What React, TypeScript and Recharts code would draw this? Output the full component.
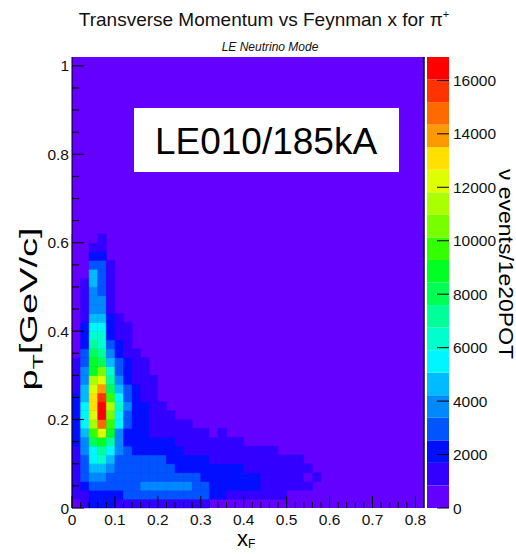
import { ScatterChart, Scatter, XAxis, YAxis, ReferenceArea, BarChart, Bar } from 'recharts'

const font = '"Liberation Sans", Arial, sans-serif'

// histogram binning (ROOT TH2: 0.02 wide bins in both x_F and p_T)
const xFBinWidth = 0.02
const pTBinWidth = 0.02
const xFRange = [0, 0.82]
const pTRange = [0, 1.02]

// colour scale: 20 contours from 0 to zMax
const zMax = 16875
const palette = [
  '#6300ff', '#3300ff', '#0010ff', '#0055ff', '#0088ff',
  '#00bbff', '#00f6ff', '#00ffcc', '#00ff99', '#00ff55',
  '#00ff22', '#33ff00', '#77ff00', '#aaff00', '#ddff00',
  '#ffe000', '#ff9900', '#ff6a00', '#ff3300', '#ff0000',
]

const xTickLabels = ['0', '0.1', '0.2', '0.3', '0.4', '0.5', '0.6', '0.7', '0.8']
const yTickLabels = ['0', '0.2', '0.4', '0.6', '0.8', '1']
const zTickLabels = [0, 2000, 4000, 6000, 8000, 10000, 12000, 14000, 16000]

// nu events / 1e20 POT per bin; one list per pT row (row 0 = 0-0.02 GeV/c), columns start at xF = 0
const eventsByRow: number[][] = [
  [300, 1400, 2200, 2300, 2000, 1600, 1500, 1400, 1400, 1300, 1300, 1200, 1100, 1000, 950, 900],
  [1100, 1600, 2300, 2500, 2400, 2500, 2700, 2800, 2900, 3000, 3100, 3000, 2900, 2800, 2700, 2600, 2300, 2000, 1500, 1400, 1300, 1200, 1100, 1000, 900],
  [1300, 2200, 2800, 3000, 3100, 3100, 3200, 3300, 3500, 3700, 3800, 3700, 3600, 3400, 3200, 2900, 2400, 2300, 2200, 2100, 1950, 1800, 1600, 1500, 1400, 1300, 1100, 950],
  [1400, 2900, 3700, 3600, 3300, 3100, 3000, 3000, 2950, 2900, 2900, 2850, 2800, 2700, 2600, 2450, 2300, 2200, 2100, 2000, 1900, 1750, 1600, 1450, 1300, 1150, 950, 700, 900],
  [1500, 3000, 4500, 4700, 3900, 3200, 3150, 3100, 3050, 3000, 2900, 2750, 2500, 2400, 2300, 2200, 2100, 2000, 1900, 1750, 1600, 1500, 1400, 1300, 1200, 1100, 1000, 900],
  [1500, 3100, 5600, 6200, 4600, 3300, 3200, 3100, 3000, 2900, 2700, 2500, 2400, 2200, 2000, 1800, 1650, 1550, 1450, 1400, 1350, 1300, 1200, 1100, 1000, 950, 900],
  [1300, 3500, 5300, 7000, 5200, 3600, 2800, 2400, 2300, 2200, 2100, 2000, 1750, 1600, 1500, 1450, 1400, 1350, 1300, 1200, 1100, 1000, 950, 900],
  [1800, 3600, 8100, 8700, 7000, 3700, 2400, 2300, 2200, 2100, 1900, 1750, 1600, 1500, 1400, 1300, 1200, 1100, 1000, 900],
  [1900, 4400, 9600, 12100, 8800, 3600, 2400, 2200, 1800, 1600, 1500, 1400, 1300, 1200, 1100, 1000, 700, 900],
  [2000, 5400, 11200, 14700, 9500, 5200, 2800, 2100, 1800, 1500, 1400, 1300, 1100, 950],
  [2000, 5600, 12400, 16600, 10400, 5500, 2900, 2200, 1900, 1500, 1300, 1000],
  [1900, 5500, 13000, 16200, 11300, 6100, 3500, 2300, 1900, 1400, 1000],
  [1800, 4900, 13300, 15700, 9800, 5300, 2800, 2100, 1500, 1100],
  [1600, 4500, 12300, 13800, 8200, 4500, 2700, 1900, 1400, 1000],
  [1500, 3700, 11200, 12100, 7100, 3600, 2100, 1500, 1200, 900],
  [1400, 3500, 8800, 10500, 6200, 3000, 2000, 1400, 1100],
  [1200, 3100, 8600, 8000, 4600, 2900, 1900, 1300, 1000],
  [700, 2800, 7800, 7000, 3700, 2100, 1300, 1000],
  [600, 2300, 7000, 6200, 3000, 2000, 1200],
  [600, 2200, 6300, 6000, 2300, 1500, 1000],
  [500, 1900, 5400, 5300, 2100, 1400, 900],
  [500, 1500, 4600, 4500, 1900, 1200],
  [400, 1400, 3900, 3700, 1300],
  [400, 1300, 3800, 3500, 1200],
  [400, 1200, 3700, 3000, 1100],
  [300, 1000, 4400, 2900, 1000],
  [300, 600, 4300, 3000, 950],
  [200, 500, 3100, 3000, 900],
  [200, 400, 2000, 2200],
  [100, 300, 1500, 1500],
  [100, 200, 600, 1200],
]

const levelStep = zMax / palette.length
const colourFor = (v: number) => palette[Math.min(palette.length - 1, Math.floor(v / levelStep))]

const cells = eventsByRow.flatMap((row, r) =>
  row.map((v, c) => ({
    x1: c * xFBinWidth,
    x2: (c + 1) * xFBinWidth,
    y1: r * pTBinWidth,
    y2: (r + 1) * pTBinWidth,
    x: (c + 0.5) * xFBinWidth,
    y: (r + 0.5) * pTBinWidth,
    v,
  }))
)

const xTicks = Array.from({ length: 41 }, (_, i) => i * 0.02)
const yTicks = Array.from({ length: 21 }, (_, i) => i * 0.05)

const XTick = (props: any) => {
  const { x, y, payload } = props
  const k = Math.round(payload.value / 0.02)
  const major = k % 5 === 0
  return (
    <g>
      <line x1={x} y1={y} x2={x} y2={y - (major ? 12 : 6)} stroke="#000" />
      {major && (
        <text x={x} y={y + 17} textAnchor="middle" fontSize={15.5} fontFamily={font} fill="#111">
          {xTickLabels[k / 5]}
        </text>
      )}
    </g>
  )
}

const YTick = (props: any) => {
  const { x, y, payload } = props
  const k = Math.round(payload.value / 0.05)
  const major = k % 4 === 0
  return (
    <g>
      <line x1={x} y1={y} x2={x + (major ? 12 : 7)} y2={y} stroke="#000" />
      {major && (
        <text x={x - 3} y={y + 5.5} textAnchor="end" fontSize={15.5} fontFamily={font} fill="#111">
          {yTickLabels[k / 4]}
        </text>
      )}
    </g>
  )
}

const ZTick = (props: any) => {
  const { x, y, payload } = props
  return (
    <g>
      <line x1={x} y1={y} x2={x - 12} y2={y} stroke="#000" />
      <text x={x + 4} y={y + 5.5} textAnchor="start" fontSize={15.5} fontFamily={font} fill="#111">
        {payload.value}
      </text>
    </g>
  )
}

const bandRow: Record<string, any> = { name: 'z' }
palette.forEach((_, i) => { bandRow[`b${i}`] = levelStep })

export default function App() {
  return (
    <div style={{ position: 'absolute', left: 0, top: 0, width: 516, height: 554, background: '#fff', overflow: 'hidden' }}>
      <div style={{ position: 'absolute', left: 0, top: 0 }}>
        <ScatterChart width={516} height={554} margin={{ top: 57, right: 92, bottom: 0, left: 12 }}>
          <ReferenceArea x1={xFRange[0]} x2={xFRange[1]} y1={pTRange[0]} y2={pTRange[1]} fill={palette[0]} fillOpacity={1} stroke="none" />
          {cells.map((c, i) => (
            <ReferenceArea
              key={i}
              x1={c.x1}
              x2={c.x2}
              y1={c.y1}
              y2={c.y2}
              fill={colourFor(c.v)}
              fillOpacity={1}
              stroke={colourFor(c.v)}
              strokeWidth={0.5}
            />
          ))}
          <Scatter data={cells} dataKey="y" fill="none" shape={() => <g />} isAnimationActive={false} />
          <XAxis
            type="number"
            dataKey="x"
            domain={xFRange}
            ticks={xTicks}
            interval={0}
            height={46}
            tickSize={0}
            tickMargin={0}
            axisLine={false}
            tickLine={false}
            tick={XTick}
            allowDataOverflow
          />
          <YAxis
            type="number"
            dataKey="y"
            domain={pTRange}
            ticks={yTicks}
            interval={0}
            width={60}
            tickSize={0}
            tickMargin={0}
            axisLine={{ stroke: '#000' }}
            tickLine={false}
            tick={YTick}
            allowDataOverflow
          />
          <ReferenceArea x1={xFRange[1] - 0.0001} x2={xFRange[1]} y1={pTRange[0]} y2={pTRange[1]} fill="#000" fillOpacity={1} stroke="#000" />
        </ScatterChart>
      </div>
      <div style={{ position: 'absolute', left: 420, top: 0 }}>
        <BarChart width={96} height={554} data={[bandRow]} margin={{ top: 57, right: 0, bottom: 46, left: 7 }} barCategoryGap={0} barGap={0}>
          <XAxis dataKey="name" hide height={0} />
          <YAxis
            orientation="right"
            type="number"
            domain={[0, zMax]}
            ticks={zTickLabels}
            interval={0}
            width={67}
            tickSize={0}
            tickMargin={0}
            axisLine={false}
            tickLine={false}
            tick={ZTick}
            allowDataOverflow
          />
          {palette.map((col, i) => (
            <Bar key={i} dataKey={`b${i}`} stackId="z" fill={col} isAnimationActive={false} />
          ))}
        </BarChart>
      </div>
      <svg width={516} height={554} style={{ position: 'absolute', left: 0, top: 0, pointerEvents: 'none' }} fontFamily={font}>
        <text x={264} y={26} textAnchor="middle" fontSize={19} fill="#111">
          Transverse Momentum vs Feynman x for π<tspan fontSize={11} dy={-8}>+</tspan>
        </text>
        <text x={270} y={51} textAnchor="middle" fontSize={12} fontStyle="italic" fill="#111">LE Neutrino Mode</text>
        <rect x={134} y={108} width={265} height={64} fill="#fff" />
        <text x={266} y={154} textAnchor="middle" fontSize={37} fill="#000">LE010/185kA</text>
        <text transform="translate(37,309) rotate(-90)" textAnchor="middle" fontSize={23} fill="#000" textLength={163} lengthAdjust="spacingAndGlyphs">
          p<tspan fontSize={15} dy={6}>T</tspan><tspan dy={-6}>[GeV/c]</tspan>
        </text>
        <text x={237} y={546} fontSize={22} fill="#000">
          x<tspan fontSize={12} dy={2}>F</tspan>
        </text>
        <text transform="translate(499,264) rotate(90)" textAnchor="middle" fontSize={20} fill="#000" textLength={190} lengthAdjust="spacingAndGlyphs">
          ν events/1e20POT
        </text>
      </svg>
    </div>
  )
}
